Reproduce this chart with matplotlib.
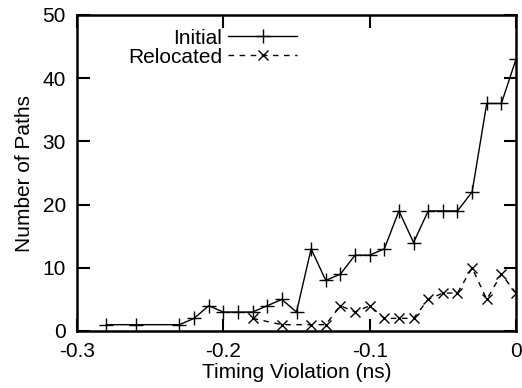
import matplotlib
matplotlib.use("Agg")
import matplotlib.pyplot as plt

plt.rcParams["font.family"] = ["Liberation Sans", "DejaVu Sans"]

# Initial timing violations
init_x = [-0.28, -0.26, -0.23, -0.22, -0.21, -0.20, -0.19, -0.18, -0.17, -0.16,
          -0.15, -0.14, -0.13, -0.12, -0.11, -0.10, -0.09, -0.08, -0.07, -0.06,
          -0.05, -0.04, -0.03, -0.02, -0.01, 0.0]
init_y = [1, 1, 1, 2, 4, 3, 3, 3, 4, 5,
          3, 13, 8, 9, 12, 12, 13, 19, 14, 19,
          19, 19, 22, 36, 36, 43]

# after relocation
reloc_x = [-0.18, -0.16, -0.14, -0.13, -0.12, -0.11, -0.10, -0.09, -0.08, -0.07,
           -0.06, -0.05, -0.04, -0.03, -0.02, -0.01, 0.0]
reloc_y = [2, 1, 1, 1, 4, 3, 4, 2, 2, 2,
           5, 6, 6, 10, 5, 9, 6]

x_ticks = [-0.3, -0.2, -0.1, 0.0]
x_labels = ["-0.3", "-0.2", "-0.1", "0"]
y_ticks = [0, 10, 20, 30, 40, 50]

fig = plt.figure(figsize=(5.22, 3.88), dpi=100)
ax = fig.add_axes([77 / 522, 57 / 388, 439 / 522, 316 / 388])

ax.plot(init_x, init_y, color="black", lw=1.0, marker="+", ms=10, mew=1.0,
        label="Initial")
ax.plot(reloc_x, reloc_y, color="black", lw=1.0, ls=(0, (4, 4)), marker="x",
        ms=7, mew=1.0, label="Relocated")

ax.set_xlim(-0.3, 0.0)
ax.set_ylim(0, 50)
ax.set_xticks(x_ticks)
ax.set_xticklabels(x_labels)
ax.set_yticks(y_ticks)
ax.tick_params(direction="in", length=9, width=1.5, top=True, right=True,
               labelsize=15)
ax.tick_params(axis="x", pad=8)
ax.tick_params(axis="y", pad=8)
for s in ax.spines.values():
    s.set_linewidth(1.8)

ax.set_xlabel("Timing Violation (ns)", fontsize=15, labelpad=1)
ax.set_ylabel("Number of Paths", fontsize=15, labelpad=6)

ax.legend(loc="upper left", bbox_to_anchor=(0.085, 1.0), frameon=False,
          markerfirst=False, fontsize=15, handlelength=3.3, handletextpad=0.3,
          labelspacing=0.0, borderaxespad=0.25)

fig.savefig("out.png", dpi=100)
